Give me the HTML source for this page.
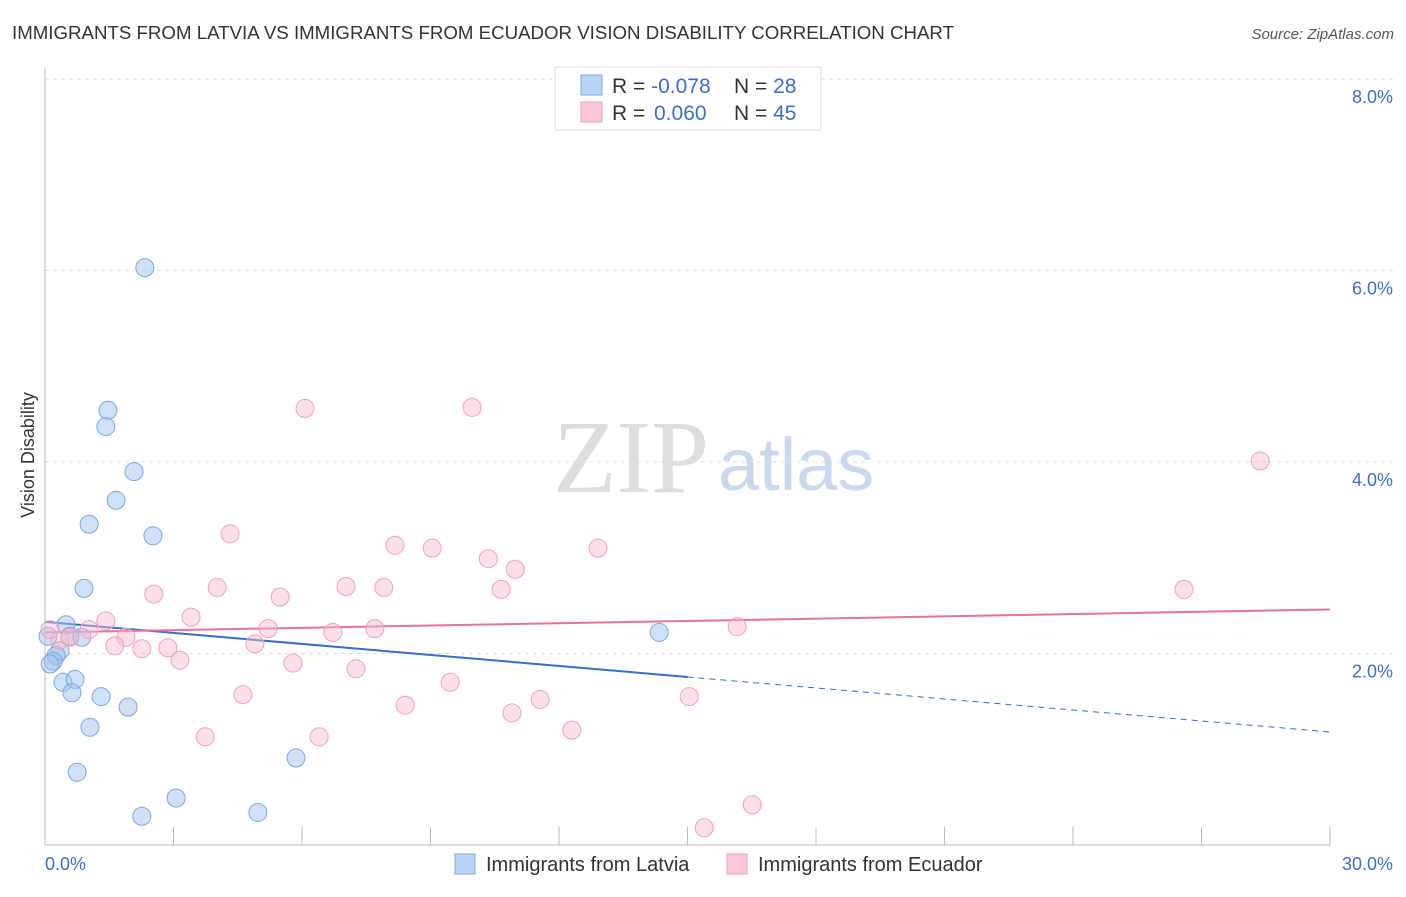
<!DOCTYPE html>
<html><head><meta charset="utf-8"><style>
body{margin:0;background:#fff;font-family:"Liberation Sans",sans-serif;}
</style></head><body>
<svg id="chart" width="1406" height="892" xmlns="http://www.w3.org/2000/svg">
<text x="12" y="39" font-size="18" fill="#333" textLength="942" lengthAdjust="spacingAndGlyphs">IMMIGRANTS FROM LATVIA VS IMMIGRANTS FROM ECUADOR VISION DISABILITY CORRELATION CHART</text>
<text x="1394" y="39" font-size="15" fill="#555" font-style="italic" text-anchor="end">Source: ZipAtlas.com</text>
<text x="34" y="455" font-size="18" fill="#333" text-anchor="middle" transform="rotate(-90 34 455)">Vision Disability</text>
<text x="553" y="492" font-size="104" fill="#ddd" font-family="Liberation Serif,serif">ZIP</text>
<text x="718" y="490" font-size="74" fill="#c9d9f0">atlas</text>
<g id="grid"></g><g id="trends"></g><g id="points"></g>
<g>
<rect x="555" y="67" width="266" height="63" fill="#fff" stroke="#ddd"/>
<rect x="581" y="75" width="21" height="20" fill="#b9d3f5" stroke="#7aa8e6"/>
<rect x="581" y="102" width="21" height="20" fill="#fcc9d8" stroke="#f0a0b8"/>
<text x="612" y="93" font-size="21" fill="#333">R = <tspan fill="#3a6fd1">-0.078</tspan><tspan x="734">N = </tspan><tspan fill="#3a6fd1">28</tspan></text>
<text x="612" y="120" font-size="21" fill="#333">R = <tspan x="654" fill="#3a6fd1">0.060</tspan><tspan x="734">N = </tspan><tspan fill="#3a6fd1">45</tspan></text>
</g>
<g>
<rect x="455" y="854" width="20" height="20" fill="#b9d3f5" stroke="#7aa8e6"/>
<text x="486" y="871" font-size="20" fill="#333">Immigrants from Latvia</text>
<rect x="727" y="854" width="20" height="20" fill="#fcc9d8" stroke="#f0a0b8"/>
<text x="758" y="871" font-size="20" fill="#333">Immigrants from Ecuador</text>
</g>
</svg>
<script>
const latviaX=[2.33,1.47,1.42,2.08,1.66,1.03,2.52,0.91,0.49,0.58,0.86,0.35,0.26,0.19,0.12,0.42,0.70,0.63,1.31,1.94,1.05,0.75,3.06,2.26,4.97,5.86,14.34,0.07];
const latviaY=[6.03,4.54,4.37,3.90,3.60,3.35,3.23,2.68,2.30,2.18,2.17,2.03,1.98,1.92,1.89,1.70,1.73,1.59,1.55,1.44,1.23,0.76,0.49,0.30,0.34,0.91,2.22,2.18];
const ecuadorX=[6.07,9.97,28.37,4.32,8.17,9.04,12.91,10.35,10.98,7.03,7.91,4.02,10.65,26.59,2.54,5.49,3.41,1.42,1.03,5.21,7.70,16.16,6.72,1.89,0.12,0.35,1.63,2.26,2.87,4.90,3.15,5.79,7.26,9.46,4.62,15.04,11.56,8.41,10.90,12.30,3.74,6.40,16.51,15.39,0.58];
const ecuadorY=[4.56,4.57,4.01,3.25,3.13,3.10,3.10,2.99,2.88,2.70,2.69,2.69,2.67,2.67,2.62,2.59,2.38,2.34,2.25,2.26,2.26,2.28,2.22,2.17,2.25,2.14,2.08,2.05,2.06,2.10,1.93,1.90,1.84,1.70,1.57,1.55,1.52,1.46,1.38,1.20,1.13,1.13,0.42,0.18,2.17];
const yTicks=[2,4,6,8];
const yTickLabels=["2.0%","4.0%","6.0%","8.0%"];
const xTicks=[0,3,6,9,12,15,18,21,24,27,30];
const latviaTrend=[2.33,1.18];
const latviaSolidEnd=15;
const ecuadorTrend=[2.22,2.46];
const NS="http://www.w3.org/2000/svg";
const sx=v=>45+v*(1285/30), sy=v=>845-v*95.75;
function mk(tag,attrs,parent){const e=document.createElementNS(NS,tag);for(const k in attrs)e.setAttribute(k,attrs[k]);parent.appendChild(e);return e;}
const grid=document.getElementById('grid');
yTicks.forEach((t,i)=>{
 const l=mk('line',{x1:45,x2:1393,y1:sy(t),y2:sy(t),stroke:'#ddd','stroke-dasharray':'4,4'},grid);
 
 
 const tx=mk('text',{x:1393,y:sy(t)+24,'font-size':18,fill:'#3a6fd1','text-anchor':'end'},grid);
 tx.textContent=yTickLabels[i];
 
 
});
const ax=mk('line',{x1:45,x2:45,y1:68,y2:845,stroke:'#bbb'},grid);


const bx=mk('line',{x1:45,x2:1330,y1:845,y2:845,stroke:'#bbb'},grid);


xTicks.forEach(t=>{
 const l=mk('line',{x1:sx(t),x2:sx(t),y1:827,y2:845,stroke:'#bbb'},grid);
 
 
});
const xl0=mk('text',{x:45,y:870,'font-size':18,fill:'#3a6fd1'},grid);xl0.textContent='0.0%';


const xl1=mk('text',{x:1393,y:870,'font-size':18,fill:'#3a6fd1','text-anchor':'end'},grid);xl1.textContent='30.0%';


const pts=document.getElementById('points');
latviaX.forEach((x,i)=>{const c=mk('circle',{cx:sx(x),cy:sy(latviaY[i]),r:9,fill:'rgba(160,196,240,0.5)',stroke:'#7aa8e6','stroke-width':1},pts);
 
 });
ecuadorX.forEach((x,i)=>{const c=mk('circle',{cx:sx(x),cy:sy(ecuadorY[i]),r:9,fill:'rgba(250,185,205,0.45)',stroke:'#f0a0b8','stroke-width':1},pts);
 
 });
const tr=document.getElementById('trends');
const ly=x=>latviaTrend[0]+(latviaTrend[1]-latviaTrend[0])*x/30;
const t1=mk('line',{x1:sx(0),y1:sy(ly(0)),x2:sx(latviaSolidEnd),y2:sy(ly(latviaSolidEnd)),stroke:'#2f6fd6','stroke-width':2},tr);


const t2=mk('line',{x1:sx(latviaSolidEnd),y1:sy(ly(latviaSolidEnd)),x2:sx(30),y2:sy(ly(30)),stroke:'#2f6fd6','stroke-width':1,'stroke-dasharray':'6,5'},tr);


const t3=mk('line',{x1:sx(0),y1:sy(ecuadorTrend[0]),x2:sx(30),y2:sy(ecuadorTrend[1]),stroke:'#e8709a','stroke-width':2},tr);


</script>
</body></html>
